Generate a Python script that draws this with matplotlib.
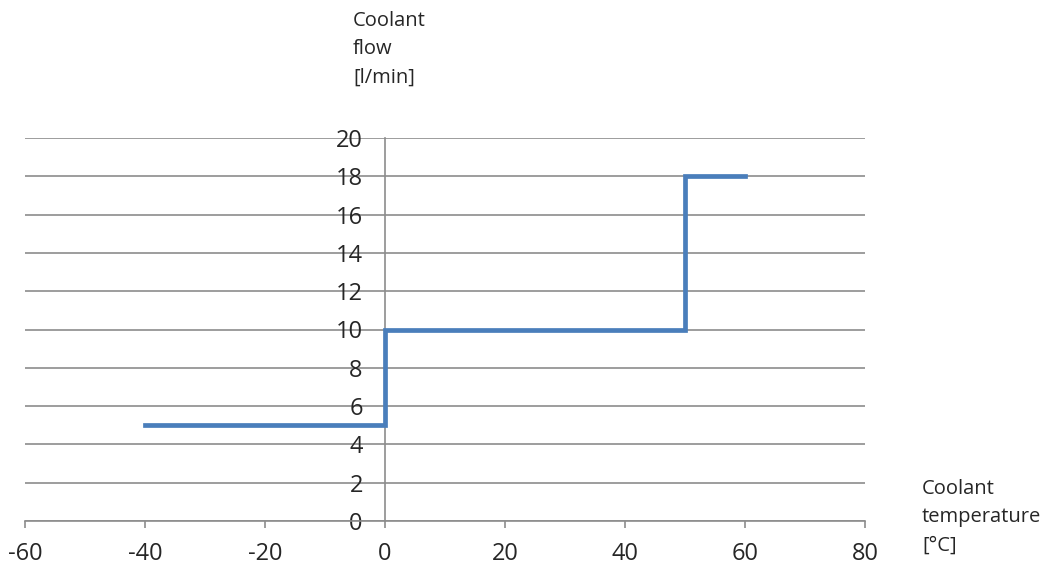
import matplotlib.pyplot as plt

# step curve: coolant flow vs coolant temperature
temps = [-40, 0, 50, 60]
flow = [5, 10, 18, 18]

xticks = [-60, -40, -20, 0, 20, 40, 60, 80]
yticks = [0, 2, 4, 6, 8, 10, 12, 14, 16, 18, 20]

plt.rcParams['font.family'] = ['Open Sans', 'DejaVu Sans']
plt.rcParams['axes.unicode_minus'] = False
txt = '#262626'
grey = '#8c8c8c'

fig = plt.figure(figsize=(10.45, 5.67), dpi=100)
ax = fig.add_axes([25 / 1045, 46 / 567, 840 / 1045, 383 / 567])

ax.plot(temps, flow, drawstyle='steps-post', color='#4a7ebb', lw=3.4,
        solid_joinstyle='miter', zorder=3)

ax.set_xlim(-60, 80)
ax.set_ylim(0, 20)
ax.set_xticks(xticks)
ax.set_yticks(yticks)
ax.grid(axis='y', color=grey, lw=1.2)
ax.set_axisbelow(True)

for s in ['top', 'right']:
    ax.spines[s].set_visible(False)
ax.spines['left'].set_position(('data', 0))
ax.spines['left'].set_color(grey)
ax.spines['left'].set_linewidth(1.2)
ax.spines['bottom'].set_color(grey)
ax.spines['bottom'].set_linewidth(1.2)

ax.tick_params(axis='y', length=0, pad=16, labelsize=17, labelcolor=txt)
ax.tick_params(axis='x', length=5, width=1.2, color=grey, pad=10,
               labelsize=17, labelcolor=txt)

fig.text(353 / 1045, 1 - 11 / 567, 'Coolant\nflow\n[l/min]', ha='left',
         va='top', fontsize=14.5, color=txt, linespacing=1.55)
fig.text(922 / 1045, 1 - 479 / 567, 'Coolant\ntemperature\n[°C]', ha='left',
         va='top', fontsize=14.5, color=txt, linespacing=1.55)

fig.savefig('out.png', dpi=100)
